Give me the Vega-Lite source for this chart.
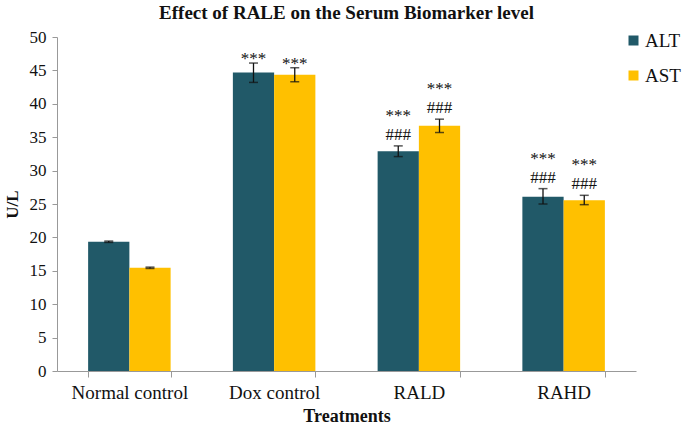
{
  "$schema": "https://vega.github.io/schema/vega-lite/v6.json",
  "width": 579,
  "height": 334,
  "autosize": {"type": "none"},
  "padding": {"left": 57, "top": 37, "right": 49, "bottom": 56},
  "background": "white",
  "title": {
    "text": "Effect of RALE on the Serum Biomarker level",
    "font": "Liberation Serif",
    "fontSize": 19,
    "fontWeight": "bold",
    "color": "#111",
    "anchor": "middle",
    "offset": 5
  },
  "config": {
    "view": {"stroke": null},
    "font": "Liberation Serif",
    "axisY": {
      "labelOverlap": false,
      "tickCount": 11,
      "grid": false,
      "labelFont": "Liberation Serif",
      "labelFontSize": 17,
      "labelColor": "#111",
      "domainColor": "#999",
      "tickColor": "#999",
      "tickSize": 5,
      "labelPadding": 6,
      "titleFont": "Liberation Serif",
      "titleFontSize": 17,
      "titleFontWeight": "bold",
      "titleColor": "#111",
      "titlePadding": 8
    }
  },
  "data": {
    "values": [
      {"treatment": "Normal control", "group": "ALT", "mean": 19.35, "lo": 19.25, "hi": 19.45, "stars": "", "hash": ""},
      {"treatment": "Normal control", "group": "AST", "mean": 15.45, "lo": 15.35, "hi": 15.55, "stars": "", "hash": ""},
      {"treatment": "Dox control", "group": "ALT", "mean": 44.7, "lo": 43.2, "hi": 46.1, "stars": "***", "hash": ""},
      {"treatment": "Dox control", "group": "AST", "mean": 44.35, "lo": 43.3, "hi": 45.4, "stars": "***", "hash": ""},
      {"treatment": "RALD", "group": "ALT", "mean": 32.9, "lo": 32.1, "hi": 33.7, "stars": "***", "hash": "###"},
      {"treatment": "RALD", "group": "AST", "mean": 36.7, "lo": 35.7, "hi": 37.7, "stars": "***", "hash": "###"},
      {"treatment": "RAHD", "group": "ALT", "mean": 26.1, "lo": 25.0, "hi": 27.3, "stars": "***", "hash": "###"},
      {"treatment": "RAHD", "group": "AST", "mean": 25.55, "lo": 24.9, "hi": 26.3, "stars": "***", "hash": "###"}
    ]
  },
  "encoding": {
    "x": {
      "field": "treatment",
      "type": "nominal",
      "sort": ["Normal control", "Dox control", "RALD", "RAHD"],
      "scale": {"paddingInner": 0.43, "paddingOuter": 0.215},
      "axis": {
        "title": "Treatments",
        "titleFont": "Liberation Serif",
        "titleFontSize": 18,
        "titleFontWeight": "bold",
        "titleColor": "#111",
        "titlePadding": 5,
        "labelFont": "Liberation Serif",
        "labelFontSize": 19,
        "labelColor": "#111",
        "labelAngle": 0,
        "labelPadding": 6,
        "domainColor": "#999",
        "tickColor": "#999",
        "tickBand": "extent",
        "tickSize": 6
      }
    },
    "xOffset": {"field": "group", "type": "nominal", "sort": ["ALT", "AST"], "scale": {"paddingInner": 0, "paddingOuter": 0}}
  },
  "layer": [
    {
      "mark": {"type": "bar"},
      "encoding": {
        "y": {
          "field": "mean",
          "type": "quantitative",
          "scale": {"domain": [0, 50]},
          "axis": {"title": "U/L", "values": [0, 5, 10, 15, 20, 25, 30, 35, 40, 45, 50], "labelOverlap": false, "tickCount": 11}
        },
        "color": {
          "field": "group",
          "type": "nominal",
          "scale": {"domain": ["ALT", "AST"], "range": ["#215968", "#FFC000"]},
          "legend": {
            "title": null,
            "orient": "none",
            "legendX": 567,
            "legendY": -6,
            "symbolType": "square",
            "symbolSize": 100,
            "symbolStrokeWidth": 0,
            "labelFont": "Liberation Serif",
            "labelFontSize": 19,
            "labelColor": "#111",
            "rowPadding": 15,
            "labelOffset": 2
          }
        }
      }
    },
    {
      "mark": {"type": "rule", "color": "#111", "strokeWidth": 1.3},
      "encoding": {
        "y": {"field": "lo", "type": "quantitative", "axis": {"title": "U/L", "values": [0, 5, 10, 15, 20, 25, 30, 35, 40, 45, 50], "labelOverlap": false, "tickCount": 11}},
        "y2": {"field": "hi"}
      }
    },
    {
      "mark": {"type": "tick", "color": "#111", "thickness": 1.5, "size": 9, "orient": "horizontal"},
      "encoding": {"y": {"field": "lo", "type": "quantitative", "axis": {"title": "U/L", "values": [0, 5, 10, 15, 20, 25, 30, 35, 40, 45, 50], "labelOverlap": false, "tickCount": 11}}}
    },
    {
      "mark": {"type": "tick", "color": "#111", "thickness": 1.5, "size": 9, "orient": "horizontal"},
      "encoding": {"y": {"field": "hi", "type": "quantitative", "axis": {"title": "U/L", "values": [0, 5, 10, 15, 20, 25, 30, 35, 40, 45, 50], "labelOverlap": false, "tickCount": 11}}}
    },
    {
      "transform": [{"filter": "datum.hash != ''"}],
      "mark": {"type": "text", "font": "Liberation Serif", "fontSize": 17, "color": "#111", "baseline": "middle", "dy": -11},
      "encoding": {
        "y": {"field": "hi", "type": "quantitative", "axis": {"title": "U/L", "values": [0, 5, 10, 15, 20, 25, 30, 35, 40, 45, 50], "labelOverlap": false, "tickCount": 11}},
        "text": {"field": "hash"}
      }
    },
    {
      "transform": [{"filter": "datum.hash != '' && datum.stars != ''"}],
      "mark": {"type": "text", "font": "Liberation Serif", "fontSize": 17, "color": "#111", "baseline": "middle", "dy": -30},
      "encoding": {
        "y": {"field": "hi", "type": "quantitative", "axis": {"title": "U/L", "values": [0, 5, 10, 15, 20, 25, 30, 35, 40, 45, 50], "labelOverlap": false, "tickCount": 11}},
        "text": {"field": "stars"}
      }
    },
    {
      "transform": [{"filter": "datum.hash == '' && datum.stars != ''"}],
      "mark": {"type": "text", "font": "Liberation Serif", "fontSize": 17, "color": "#111", "baseline": "middle", "dy": -4},
      "encoding": {
        "y": {"field": "hi", "type": "quantitative", "axis": {"title": "U/L", "values": [0, 5, 10, 15, 20, 25, 30, 35, 40, 45, 50], "labelOverlap": false, "tickCount": 11}},
        "text": {"field": "stars"}
      }
    }
  ]
}
